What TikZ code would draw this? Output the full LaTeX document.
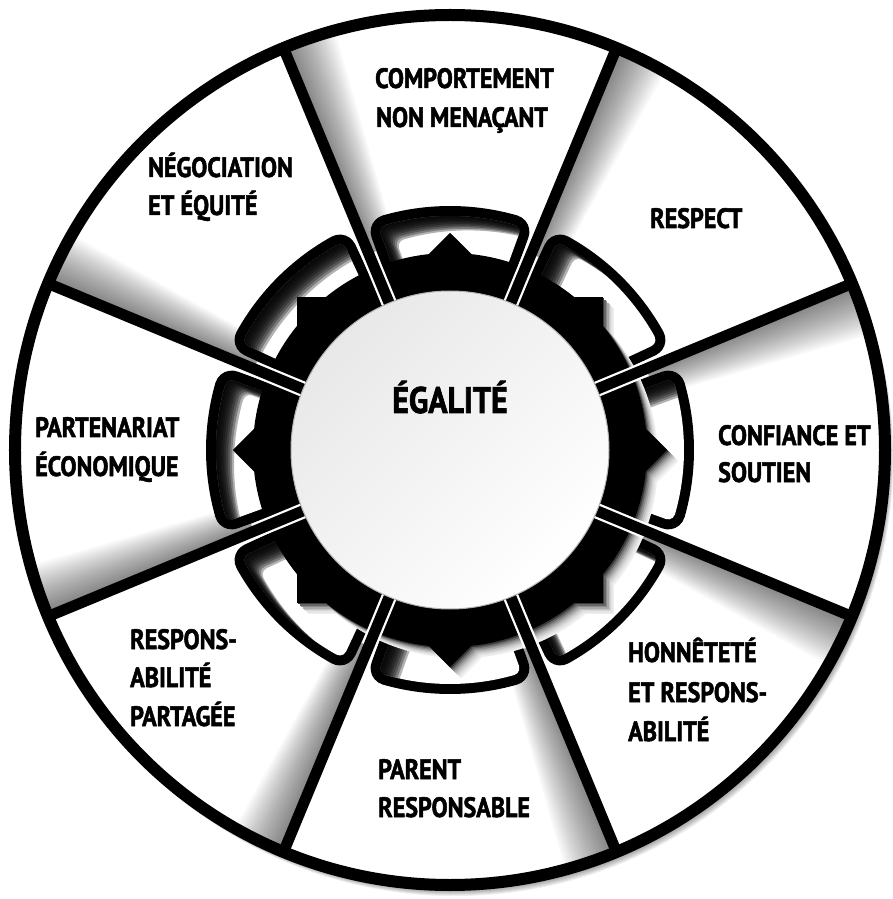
\documentclass[tikz,border=0pt]{standalone}
\usepackage{fontspec}
\setmainfont{PT Sans}[FakeStretch=0.86, BoldFeatures={FakeBold=1.8}]
\tikzset{
  lbl/.style={font=\bfseries\fontsize{28}{32}\selectfont, inner sep=0pt, anchor=base west, text=black},
  title/.style={font=\bfseries\fontsize{37}{40}\selectfont, inner sep=0pt, anchor=base, text=black},
  ring/.style={draw=black, line width=12pt},
  spoke/.style={draw=black, line width=11pt},
  halo/.style={draw=white, line width=15.5pt},
}
% rounded tab: #1 centre angle, #2 offset (corner radius)
\newcommand\tabpath[2]{%
  ({#1-15.96}:{227+#2}) arc[start angle={#1-15.96}, end angle={#1+15.96}, radius={227+#2}]
  arc[start angle={#1+15.96}, end angle={#1+110}, radius={#2}]
  -- ++({#1+200}:39.12)
  arc[start angle={#1+110}, end angle={#1+195.12}, radius={#2}]
  arc[start angle={#1+15.12}, end angle={#1-15.12}, radius={188-#2}]
  arc[start angle={#1+164.88}, end angle={#1+250}, radius={#2}]
  -- ++({#1-20}:39.12)
  arc[start angle={#1-110}, end angle={#1-15.96}, radius={#2}] -- cycle}
\newcommand\gearfill[1]{%
  \fill[#1] (0,0) circle (197);
  \fill[#1] (-153,-153) rectangle (153,153);
  \fill[#1] (217,0) -- (0,217) -- (-217,0) -- (0,-217) -- cycle;}
\begin{document}
\begin{tikzpicture}[x=1pt,y=1pt]
\useasboundingbox (-450,-449) rectangle (443,450);
\fill[white] (-450,-449) rectangle (443,450);
% drop shadow of the wheel
\foreach \k in {1,...,9}{\fill[black,opacity=0.06] (0.6*\k,-0.9*\k) circle (438);}
\fill[white] (0,0) circle (437);
% sector shading along the counter-clockwise edge
\foreach \a in {0,45,...,315}{
  \begin{scope}
    \clip (0,0) -- ({\a-22.5}:437) arc[start angle={\a-22.5}, end angle={\a+22.5}, radius=437] -- cycle;
    \begin{scope}[rotate=\a+22.5]
      \foreach \k in {1,...,22}{\fill[black,opacity=0.026] (150,0) -- (440,0) -- (440,{-2.5*\k}) -- (150,{-1.0*\k}) -- cycle;}
    \end{scope}
  \end{scope}
}
% tabs
\foreach \a in {0,45,...,315}{
  \fill[black] \tabpath{\a}{17};
  \fill[white] \tabpath{\a}{7};
  \begin{scope}
    \clip \tabpath{\a}{7};
    \foreach \s in {2,4,...,18}{
      \begin{scope}[shift={(\s,-0.8*\s)}]
        \fill[black,opacity=0.3,even odd rule] (-470,-470) rectangle (470,470) \tabpath{\a}{7};
      \end{scope}
    }
  \end{scope}
}
% gear shadow and gear
\foreach \k/\c in {8/6,7/10,6/16,5/24,4/34,3/46,2/60,1/78}{
  \begin{scope}[shift={(1.4*\k,-1.4*\k)}]
    \gearfill{black!\c}
  \end{scope}
}
\gearfill{black}
% spokes
\foreach \a in {22.5,67.5,...,337.5}{
  \draw[halo] (\a:150) -- (\a:212);
  \draw[spoke] (\a:150) -- (\a:437);
}
% hub
\shade[top color=black!9, bottom color=white, shading angle=45] (0,0) circle (159);
\draw[black!30, line width=1pt] (0,0) circle (159);
\node[title] (egal) at (0,37) {ÉGALITÉ};
% outer ring
\draw[ring] (0,0) circle (435);
% labels
\node[lbl] (t1a) at (-75,362) {COMPORTEMENT};
\node[lbl] (t1b) at (-74,323) {NON MENAÇANT};
\node[lbl] (t2) at (200,222) {RESPECT};
\node[lbl] (t3a) at (268,5) {CONFIANCE ET};
\node[lbl] (t3b) at (268,-32) {SOUTIEN};
\node[lbl] (t4a) at (178,-212) {HONNÊTETÉ};
\node[lbl] (t4b) at (178,-252) {ET RESPONS-};
\node[lbl] (t4c) at (178,-291) {ABILITÉ};
\node[lbl] (t5a) at (-72,-329) {PARENT};
\node[lbl] (t5b) at (-72,-367) {RESPONSABLE};
\node[lbl] (t6a) at (-320,-199) {RESPONS-};
\node[lbl] (t6b) at (-320,-237) {ABILITÉ};
\node[lbl] (t6c) at (-320,-276) {PARTAGÉE};
\node[lbl] (t7a) at (-415,13) {PARTENARIAT};
\node[lbl] (t7b) at (-415,-26) {ÉCONOMIQUE};
\node[lbl] (t8a) at (-302,273) {NÉGOCIATION};
\node[lbl] (t8b) at (-302,235) {ET ÉQUITÉ};
\end{tikzpicture}
\end{document}
